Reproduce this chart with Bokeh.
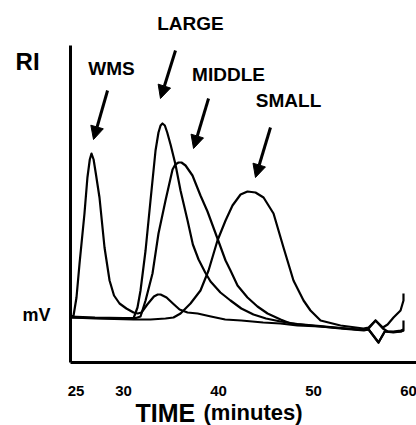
from bokeh.plotting import figure
from bokeh.models import Range1d, FixedTicker, Label, Arrow, NormalHead
from bokeh.core.properties import value
from bokeh.embed import file_html
from bokeh.resources import INLINE

# ---- data (time in minutes, RI signal in arbitrary mV units) ----
time_ticks = [25, 30, 40, 50, 60]
time_tick_labels = ["25", "30", "40", "50", "60"]

wms_t = [24.42, 24.74, 25.05, 25.37, 25.89, 26.2, 26.45, 26.63, 26.85, 27.1,
         27.47, 28.0, 28.53, 29.0, 29.58, 30.3, 31.05, 31.5, 31.89, 32.5,
         33.2, 33.6, 33.9, 34.53, 35.2, 35.9, 36.74, 37.8, 39.2, 40.7,
         42.4, 44.7, 46.5, 48.3, 50.7, 52.8, 55.3, 55.8, 56.84, 57.5,
         58.4, 59.2, 59.47]
wms_y = [45, 47, 65, 99, 149, 185, 203, 209, 203, 188,
         165, 115, 82, 67, 59, 54, 50, 49, 50, 58,
         66, 68, 68, 65, 59, 53, 50, 49, 46, 43,
         42, 40, 39, 37, 36, 34, 32, 33, 20, 31,
         30, 31, 32]

large_t = [24.42, 27.0, 30.0, 31.05, 31.47, 31.79, 32.32, 32.84, 33.37, 33.68,
           33.9, 34.1, 34.35, 34.6, 34.95, 35.47, 36.0, 36.74, 37.3, 37.9,
           38.6, 39.16, 40.2, 41.26, 42.4, 43.68, 45.0, 46.53, 48.3, 50.7,
           52.8, 55.3, 55.8, 56.53, 57.3, 57.8, 58.4, 59.2, 59.47, 59.47]
large_y = [45, 44.5, 44, 44, 55, 72, 112, 162, 212, 230,
           237, 239, 237, 230, 218, 198, 172, 142, 118, 103,
           90, 81, 70, 62, 54, 48, 44, 41, 38.5, 36.5,
           34.5, 32.5, 34, 42, 34, 31, 30.5, 31, 32, 42]

middle_t = [24.42, 27.0, 30.0, 31.3, 31.79, 32.32, 33.05, 33.68, 34.42, 35.16,
            35.45, 35.79, 36.1, 36.53, 37.26, 38.1, 38.84, 39.89, 40.74, 41.26,
            42.0, 43.05, 44.1, 45.16, 46.53, 47.58, 50.7, 52.8, 55.3, 55.8,
            56.84, 57.5, 58.4, 59.2, 59.47]
middle_y = [46, 45, 44.5, 44.5, 46, 62, 89, 129, 162, 193,
            198, 200, 200, 197, 187, 167, 151, 124, 102, 92,
            77, 65, 56, 49, 43, 39, 36, 34.5, 32.5, 33,
            20, 31, 31, 32, 33]

small_t = [24.42, 27.0, 31.05, 32.84, 34.42, 35.26, 36.0, 37.05, 38.1, 38.95,
           39.89, 40.74, 41.47, 42.32, 43.05, 43.89, 44.74, 45.79, 46.84, 47.89,
           48.95, 49.68, 50.74, 52.84, 55.26, 55.8, 56.53, 57.3, 57.8, 58.42,
           59.16, 59.47, 59.47]
small_y = [45, 44, 43, 43, 44, 45, 49, 59, 72, 92,
           122, 142, 157, 168, 171, 170, 165, 149, 115, 82,
           62, 52, 42, 37, 34, 35, 42, 35, 38, 45,
           52, 62, 69]

FONT = "Liberation Sans"
X0, X1 = 24.42, 60.84   # time axis extent
YTOP = 317              # signal axis extent

p = figure(width=416, height=425, output_backend="svg", toolbar_location=None,
           x_range=Range1d(17.05, 60.84), y_range=Range1d(-63, 362),
           min_border_left=0, min_border_right=0, min_border_top=0,
           min_border_bottom=0)
p.outline_line_color = None
p.xgrid.visible = False
p.ygrid.visible = False
p.background_fill_color = "white"

# axes: lines only, placed at the origin of the data
for ax in (p.xaxis, p.yaxis):
    ax.ticker = FixedTicker(ticks=[])
    ax.axis_line_width = 3
    ax.axis_line_color = "black"
    ax.major_tick_line_color = None
    ax.minor_tick_line_color = None
    ax.major_label_text_font_size = "0px"
p.xaxis.fixed_location = 0
p.xaxis.bounds = (X0, X1)
p.yaxis.fixed_location = X0
p.yaxis.bounds = (0, YTOP)

# tick labels of time axis
p.text(x=time_ticks, y=[-28.5] * len(time_ticks), text=time_tick_labels,
       text_font=value(FONT), text_font_style="bold", text_font_size="15px",
       text_align="center", text_baseline="middle", text_color="black")

# curves
for t, y in [(wms_t, wms_y), (large_t, large_y), (middle_t, middle_y), (small_t, small_y)]:
    p.line(t, y, line_color="black", line_width=2.2, line_join="round")

# annotations
def lab(x, y, text, size, align="center", baseline="middle"):
    p.add_layout(Label(x=x, y=y, text=text, text_font=FONT, text_font_style="bold",
                       text_font_size=size, text_align=align, text_baseline=baseline,
                       text_color="black"))

lab(19.9, 301, "RI", "24px")
lab(20.84, 48, "mV", "18px")
lab(28.74, 294, "WMS", "19px")
lab(37.05, 339, "LARGE", "19px")
lab(41.05, 288, "MIDDLE", "19px")
lab(47.37, 262, "SMALL", "19px")
lab(31.26, -50, "TIME", "25px", align="left", baseline="alphabetic")
lab(38.42, -50, "(minutes)", "22px", align="left", baseline="alphabetic")

arrows = [((28.32, 272), (26.84, 223)),
          ((35.47, 312), (33.89, 264)),
          ((38.95, 264), (37.37, 214)),
          ((45.47, 235), (43.89, 185))]
for (x0, y0), (x1, y1) in arrows:
    p.add_layout(Arrow(end=NormalHead(size=13, fill_color="black", line_color="black"),
                       x_start=x0, y_start=y0, x_end=x1, y_end=y1,
                       line_width=3, line_color="black"))

open("out.html", "w").write(file_html(p, INLINE))
